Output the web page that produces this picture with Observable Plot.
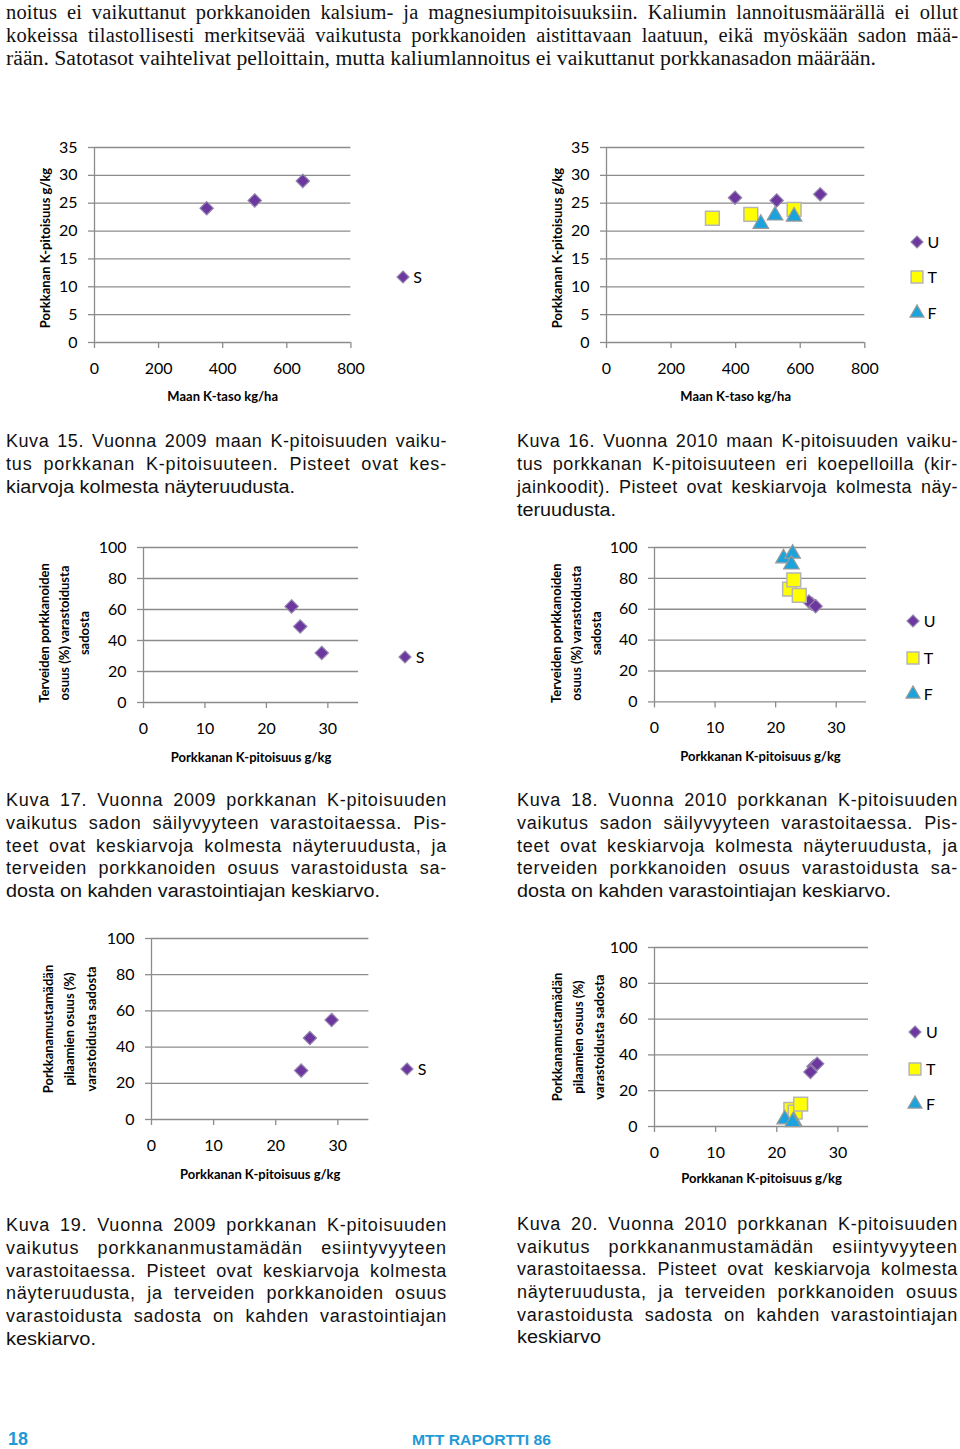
<!DOCTYPE html>
<html><head><meta charset="utf-8">
<script src="https://cdn.jsdelivr.net/npm/d3@7"></script>
<script src="https://cdn.jsdelivr.net/npm/@observablehq/plot@0.6"></script>
<style>
html,body{margin:0;padding:0;background:#fff;}
#page{position:relative;width:960px;height:1449px;overflow:hidden;background:#fff;}
.ln{position:absolute;white-space:nowrap;}
.ln span{display:inline-block;transform-origin:0 50%;}
.chart{position:absolute;}
</style></head><body><div id="page"></div>
<script>
// ---------------- data ----------------
const soilK2009 = [350, 500, 650];          // Maan K-taso kg/ha, 2009 (S)
const carrotK2009 = [24.1, 25.5, 29.0];     // Porkkanan K-pitoisuus g/kg
const healthy2009 = [62, 49, 32];           // terveiden osuus %
const rot2009 = [27, 45, 55];               // mustamädän pilaamien osuus %

const soilK2010U = [398, 527, 662];
const carrotK2010U = [26.0, 25.5, 26.6];
const healthy2010U = [63.5, 65, 62];
const rot2010U = [33.5, 30.5, 35];

const soilK2010T = [328, 447, 581];
const carrotK2010T = [22.3, 23.0, 23.9];
const healthy2010T = [73, 79, 69];
const rot2010T = [9.5, 8, 12.5];

const soilK2010F = [478, 522, 581];
const carrotK2010F = [21.3, 22.8, 22.6];
const healthy2010F = [93, 96, 89];
const rot2010F = [4, 3, 2.5];

const soilTicks = [0, 200, 400, 600, 800];
const carrotKTicks = [0, 5, 10, 15, 20, 25, 30, 35];
const pctTicks = [0, 20, 40, 60, 80, 100];
const carrotKxTicks = [0, 10, 20, 30];

const labelSoil = "Maan K-taso kg/ha";
const labelCarrotK = "Porkkanan K-pitoisuus g/kg";
const labelHealthy = "Terveiden porkkanoiden\nosuus (%) varastoidusta\nsadosta";
const labelRot = "Porkkanamustamädän\npilaamien osuus (%)\nvarastoidusta sadosta";

// ---------------- styling ----------------
const page = document.getElementById("page");
const GRID = "#8c8c8c";
const markStyle = {
  diamond: {symbol: "diamond2", r: 6, fill: "#6c38a0", stroke: "#9585ad", strokeWidth: 1.2},
  square: {symbol: "square", r: 7.8, fill: "#ffff00", stroke: "#b5b5b5", strokeWidth: 1.5},
  triangle: {symbol: "triangle", r: 5.8, fill: "#1aa3dc", stroke: "#9a9a9a", strokeWidth: 1.2}
};
const legendSym = {
  diamond: {type: d3.symbolDiamond2, size: 92},
  square: {type: d3.symbolSquare, size: 140},
  triangle: {type: d3.symbolTriangle, size: 85}
};

function drawChart(cfg) {
  const f = cfg.frame;
  const box = {left: f.x0 - 95, top: f.y0 - 25, width: (f.x1 - f.x0) + 125, height: (f.y1 - f.y0) + 95};
  const plot = Plot.plot({
    width: box.width, height: box.height,
    marginLeft: f.x0 - box.left, marginRight: box.left + box.width - f.x1,
    marginTop: f.y0 - box.top, marginBottom: box.top + box.height - f.y1,
    x: {type: "linear", domain: cfg.xDomain},
    y: {type: "linear", domain: cfg.yDomain},
    style: "font-family: Lato, sans-serif; font-size: 16px; color: #000; background: transparent; overflow: visible;",
    marks: [
      Plot.gridY(cfg.yTicks, {stroke: GRID, strokeOpacity: 1, strokeWidth: 1.3}),
      Plot.ruleX([cfg.xDomain[0]], {stroke: GRID, strokeWidth: 1.3}),
      Plot.axisY(cfg.yTicks, {tickSize: 6, tickPadding: 11, stroke: GRID, strokeWidth: 1.3, fill: "#000", label: null}),
      Plot.axisX(cfg.xTicks, {tickSize: 6, tickPadding: 14, stroke: GRID, strokeWidth: 1.3, fill: "#000", label: null}),
      ...cfg.series.map(s => Plot.dot(s.x, {x: s.x, y: s.y, ...markStyle[s.shape]})),
      Plot.text([cfg.xLabel], {text: d => d, frameAnchor: "bottom", textAnchor: "middle", lineAnchor: "middle",
        dy: cfg.xLabelDy, fontWeight: "bold", fontSize: 13, fill: "#000"}),
      Plot.text([cfg.yLabel], {text: d => d, frameAnchor: "left", rotate: -90, textAnchor: "middle", lineAnchor: "middle",
        lineHeight: cfg.yLineHeight || 1.6, dx: cfg.yLabelDx, dy: cfg.yLabelDy || 0, fontWeight: "bold", fontSize: 13, fill: "#000"})
    ]
  });
  const div = document.createElement("div");
  div.className = "chart";
  div.style.left = box.left + "px";
  div.style.top = box.top + "px";
  div.style.width = box.width + "px";
  div.appendChild(plot);
  page.appendChild(div);

  cfg.legend.forEach(e => {
    const svg = d3.select(page).append("svg")
      .attr("width", 40).attr("height", 24)
      .style("position", "absolute").style("overflow", "visible")
      .style("left", (e.cx - 10) + "px").style("top", (e.cy - 12) + "px");
    const st = markStyle[e.shape];
    svg.append("path").attr("transform", "translate(10,12)")
      .attr("d", d3.symbol(legendSym[e.shape].type, legendSym[e.shape].size)())
      .attr("fill", st.fill).attr("stroke", st.stroke).attr("stroke-width", st.strokeWidth);
    svg.append("text").attr("x", e.tx - (e.cx - 10)).attr("y", 12 + 5.8)
      .attr("font-family", "Lato, sans-serif").attr("font-size", 16).attr("fill", "#000").text(e.name);
  });
}

const s2009 = (x, y) => [{x, y, shape: "diamond"}];
const s2010 = (xu, yu, xt, yt, xf, yf) => [
  {x: xu, y: yu, shape: "diamond"}, {x: xt, y: yt, shape: "square"}, {x: xf, y: yf, shape: "triangle"}];
const leg1 = (cx, cy, tx) => [{name: "S", shape: "diamond", cx, cy, tx}];
const leg3 = (cx, ys, tx) => [
  {name: "U", shape: "diamond", cx, cy: ys[0], tx},
  {name: "T", shape: "square", cx, cy: ys[1], tx},
  {name: "F", shape: "triangle", cx, cy: ys[2], tx}];

// Kuva 15
drawChart({frame: {x0: 94.3, x1: 350.7, y0: 147, y1: 342}, xDomain: [0, 800], xTicks: soilTicks,
  yDomain: [0, 35], yTicks: carrotKTicks, series: s2009(soilK2009, carrotK2009),
  xLabel: labelSoil, xLabelDy: 54, yLabel: labelCarrotK, yLabelDx: -51.3, yLabelDy: 3,
  legend: leg1(402.7, 277, 413)});
// Kuva 16
drawChart({frame: {x0: 605.7, x1: 864, y0: 147.3, y1: 342.3}, xDomain: [0, 800], xTicks: soilTicks,
  yDomain: [0, 35], yTicks: carrotKTicks,
  series: s2010(soilK2010U, carrotK2010U, soilK2010T, carrotK2010T, soilK2010F, carrotK2010F),
  xLabel: labelSoil, xLabelDy: 54.4, yLabel: labelCarrotK, yLabelDx: -50.7, yLabelDy: 3,
  legend: leg3(916.5, [241.7, 276.7, 313.3], 927)});
// Kuva 17
drawChart({frame: {x0: 143.3, x1: 358.4, y0: 546.7, y1: 701.7}, xDomain: [0, 35], xTicks: carrotKxTicks,
  yDomain: [0, 100], yTicks: pctTicks, series: s2009(carrotK2009, healthy2009),
  xLabel: labelCarrotK, xLabelDy: 55, yLabel: labelHealthy, yLabelDx: -81, yLabelDy: 8, yLineHeight: 1.55,
  legend: leg1(405.3, 656.7, 416)});
// Kuva 18
drawChart({frame: {x0: 654.3, x1: 866.3, y0: 547.3, y1: 701.7}, xDomain: [0, 35], xTicks: carrotKxTicks,
  yDomain: [0, 100], yTicks: pctTicks,
  series: s2010(carrotK2010U, healthy2010U, carrotK2010T, healthy2010T, carrotK2010F, healthy2010F),
  xLabel: labelCarrotK, xLabelDy: 55, yLabel: labelHealthy, yLabelDx: -80, yLabelDy: 8.5, yLineHeight: 1.55,
  legend: leg3(913.3, [620.7, 657.7, 694], 924)});
// Kuva 19
drawChart({frame: {x0: 151, x1: 368.4, y0: 938.3, y1: 1119.3}, xDomain: [0, 35], xTicks: carrotKxTicks,
  yDomain: [0, 100], yTicks: pctTicks, series: s2009(carrotK2009, rot2009),
  xLabel: labelCarrotK, xLabelDy: 55.7, yLabel: labelRot, yLabelDx: -84, yLabelDy: 0, yLineHeight: 1.65,
  legend: leg1(407.3, 1069, 418)});
// Kuva 20
drawChart({frame: {x0: 654.3, x1: 868.3, y0: 946.7, y1: 1125.7}, xDomain: [0, 35], xTicks: carrotKxTicks,
  yDomain: [0, 100], yTicks: pctTicks,
  series: s2010(carrotK2010U, rot2010U, carrotK2010T, rot2010T, carrotK2010F, rot2010F),
  xLabel: labelCarrotK, xLabelDy: 52.6, yLabel: labelRot, yLabelDx: -78.3, yLabelDy: 0, yLineHeight: 1.6,
  legend: leg3(915, [1032.3, 1069, 1104], 926)});

// ---------------- text ----------------
const SERIF = "'Liberation Serif', 'Times New Roman', serif";
const SANS = "'Liberation Sans', Arial, sans-serif";
const METRICS = {serif: [0.891, 0.216], sans: [0.905, 0.212]};
function addLine(text, o) {
  const m = METRICS[o.kind];
  const basePos = (o.lh - (m[0] + m[1]) * o.size) / 2 + m[0] * o.size;
  const div = document.createElement("div");
  div.className = "ln";
  div.style.left = o.x + "px";
  div.style.top = (o.baseline - basePos) + "px";
  div.style.height = o.lh + "px";
  div.style.fontFamily = o.kind === "serif" ? SERIF : SANS;
  div.style.fontSize = o.size + "px";
  div.style.fontWeight = o.weight || "normal";
  div.style.lineHeight = o.lh + "px";
  div.style.color = o.color || "#111";
  const span = document.createElement("span");
  span.textContent = text;
  div.appendChild(span);
  page.appendChild(div);
  const w = span.getBoundingClientRect().width;
  if (o.justify) {
    const n = (text.match(/ /g) || []).length;
    const chars = text.length - 1;
    const extra = o.width - w;
    if (extra >= 0 && n > 0) {
      const ls = (extra * (o.letterShare || 0)) / chars;
      const ws = (extra * (1 - (o.letterShare || 0))) / n;
      span.style.letterSpacing = ls + "px";
      span.style.wordSpacing = ws + "px";
      const w2 = span.getBoundingClientRect().width;
      if (Math.abs(w2 - o.width) > 0.5) span.style.wordSpacing = (ws + (o.width - w2) / n) + "px";
    } else span.style.transform = `scaleX(${o.width / w})`;
  } else if (o.fit) {
    span.style.transform = `scaleX(${o.fit / w})`;
  }
}
function block(lines, x, baselines, width, lastFit, kind, size, lh, letterShare) {
  lines.forEach((t, i) => {
    const last = i === lines.length - 1;
    addLine(t, {x, baseline: baselines[i], width, kind, size, lh, letterShare,
      justify: !last, fit: last ? lastFit : null});
  });
}

block([
  "noitus ei vaikuttanut porkkanoiden kalsium- ja magnesiumpitoisuuksiin. Kaliumin lannoitusmäärällä ei ollut",
  "kokeissa tilastollisesti merkitsevää vaikutusta porkkanoiden aistittavaan laatuun, eikä myöskään sadon mää-",
  "rään. Satotasot vaihtelivat pelloittain, mutta kaliumlannoitus ei vaikuttanut porkkanasadon määrään."
], 6, [18.5, 41.5, 64.5], 952, 870, "serif", 20.5, 20, 0.3);

block([
  "Kuva 15. Vuonna 2009 maan K-pitoisuuden vaiku-",
  "tus porkkanan K-pitoisuuteen. Pisteet ovat kes-",
  "kiarvoja kolmesta näyteruudusta."
], 6, [448, 471, 494], 441, 289, "sans", 18, 23, 0.6);

block([
  "Kuva 16. Vuonna 2010 maan K-pitoisuuden vaiku-",
  "tus porkkanan K-pitoisuuteen eri koepelloilla (kir-",
  "jainkoodit). Pisteet ovat keskiarvoja kolmesta näy-",
  "teruudusta."
], 517, [448, 471, 494, 517], 441, 99, "sans", 18, 23, 0.6);

block([
  "Kuva 17. Vuonna 2009 porkkanan K-pitoisuuden",
  "vaikutus sadon säilyvyyteen varastoitaessa. Pis-",
  "teet ovat keskiarvoja kolmesta näyteruudusta, ja",
  "terveiden porkkanoiden osuus varastoidusta sa-",
  "dosta on kahden varastointiajan keskiarvo."
], 6, [807, 830, 853, 875, 898], 441, 374, "sans", 18, 23, 0.6);

block([
  "Kuva 18. Vuonna 2010 porkkanan K-pitoisuuden",
  "vaikutus sadon säilyvyyteen varastoitaessa. Pis-",
  "teet ovat keskiarvoja kolmesta näyteruudusta, ja",
  "terveiden porkkanoiden osuus varastoidusta sa-",
  "dosta on kahden varastointiajan keskiarvo."
], 517, [807, 830, 853, 875, 898], 441, 374, "sans", 18, 23, 0.6);

block([
  "Kuva 19. Vuonna 2009 porkkanan K-pitoisuuden",
  "vaikutus porkkananmustamädän esiintyvyyteen",
  "varastoitaessa. Pisteet ovat keskiarvoja kolmesta",
  "näyteruudusta, ja terveiden porkkanoiden osuus",
  "varastoidusta sadosta on kahden varastointiajan",
  "keskiarvo."
], 6, [1232, 1255, 1278, 1300, 1323, 1346], 441, 90, "sans", 18, 23, 0.6);

block([
  "Kuva 20. Vuonna 2010 porkkanan K-pitoisuuden",
  "vaikutus porkkananmustamädän esiintyvyyteen",
  "varastoitaessa. Pisteet ovat keskiarvoja kolmesta",
  "näyteruudusta, ja terveiden porkkanoiden osuus",
  "varastoidusta sadosta on kahden varastointiajan",
  "keskiarvo"
], 517, [1231, 1254, 1276, 1299, 1322, 1344], 441, 84, "sans", 18, 23, 0.6);

addLine("18", {x: 8, baseline: 1446, kind: "sans", size: 19, lh: 16, weight: "bold", color: "#1f9ad6", fit: 20});
addLine("MTT RAPORTTI 86", {x: 412, baseline: 1445, kind: "sans", size: 15, lh: 16, weight: "bold", color: "#1f9ad6", fit: 139});
</script>
</body></html>
